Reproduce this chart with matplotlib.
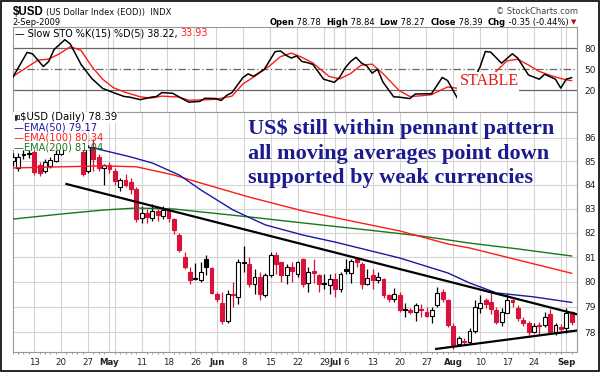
import matplotlib
matplotlib.use("Agg")
import matplotlib.pyplot as plt
import numpy as np
import pandas as pd
from matplotlib.patches import Rectangle

# ---------------- data ----------------
holidays = ["2009-04-10", "2009-05-25", "2009-07-03"]
days = [d.strftime("%m-%d") for d in pd.bdate_range("2009-04-06", "2009-09-02")
        if d.strftime("%Y-%m-%d") not in holidays]

opens = [85.0, 84.7, 85.25, 85.35, 85.4, 84.85, 84.6, 84.8, 85.0, 85.3,
         85.9, 86.1, 86.2, 85.4, 84.6, 85.6, 85.2, 84.7, 84.85, 84.6,
         83.9, 84.2, 84.1, 83.8, 82.6, 82.8, 82.6, 82.9, 82.7, 82.95,
         82.55, 81.9, 81.0, 80.4, 80.1, 80.07, 80.9, 80.55, 79.5, 79.15,
         78.45, 79.5, 79.4, 80.75, 80.7, 79.9, 80.2, 79.45, 80.25, 81.1,
         80.8, 80.25, 80.6, 80.3, 80.9, 79.95, 80.45, 80.25, 79.9, 79.85,
         80.1, 79.7, 80.5, 80.35, 80.9, 80.7, 79.9, 80.25, 80.05, 80.1,
         79.45, 79.3, 79.45, 78.9, 78.88, 78.8, 78.9, 78.8, 78.65, 79.05,
         79.6, 79.25, 78.25, 77.55, 77.65, 77.6, 78.05, 78.95, 79.25, 79.2,
         78.85, 78.4, 78.75, 79.25, 78.95, 78.48, 78.35, 78.0, 78.28, 78.28,
         78.7, 78.0, 78.18, 78.15, 78.78]
highs = [85.35, 85.35, 85.5, 85.5, 85.5, 84.95, 85.1, 85.2, 85.5, 86.0,
         86.4, 86.6, 86.5, 85.5, 85.7, 85.95, 85.3, 84.9, 84.95, 84.7,
         84.3, 84.45, 84.3, 83.9, 83.1, 83.0, 83.2, 83.0, 83.1, 83.05,
         82.6, 82.0, 81.2, 80.6, 80.75, 80.8, 81.1, 80.6, 79.6, 79.6,
         79.65, 80.0, 80.9, 81.45, 81.0, 80.5, 80.4, 80.35, 81.2, 81.2,
         80.8, 80.7, 80.8, 80.85, 80.95, 80.6, 80.9, 80.3, 80.3, 80.3,
         80.35, 80.4, 80.9, 80.9, 81.0, 80.8, 80.5, 80.5, 80.4, 80.15,
         79.5, 79.75, 79.6, 79.15, 78.95, 79.15, 79.1, 79.0, 79.0, 79.8,
         79.7, 79.3, 78.35, 77.85, 77.75, 78.15, 79.25, 79.45, 79.35, 79.55,
         79.0, 78.95, 79.5, 79.3, 79.05, 78.6, 78.45, 78.35, 78.4, 78.8,
         78.9, 78.35, 78.3, 78.95, 78.84]
lows = [84.8, 84.6, 85.1, 85.15, 84.4, 84.35, 84.5, 84.7, 84.95, 85.25,
        85.7, 85.9, 85.5, 84.35, 84.5, 84.6, 84.6, 84.0, 84.5, 84.0,
        83.75, 83.9, 83.6, 82.45, 82.4, 82.4, 82.5, 82.5, 82.55, 82.45,
        81.95, 81.2, 80.5, 79.9, 80.05, 80.0, 80.25, 79.5, 79.2, 78.3,
        78.35, 79.0, 79.1, 80.4, 79.8, 79.5, 79.25, 79.4, 80.2, 80.3,
        80.0, 79.9, 80.0, 80.2, 79.8, 79.6, 79.95, 79.6, 79.7, 79.5,
        79.4, 79.6, 80.3, 79.95, 80.6, 79.7, 79.85, 79.7, 79.95, 79.35,
        79.2, 79.2, 78.8, 78.6, 78.7, 78.45, 78.6, 78.6, 78.35, 79.0,
        79.2, 78.2, 77.35, 77.5, 77.5, 77.55, 77.95, 78.75, 78.95, 78.7,
        78.3, 78.25, 78.75, 79.0, 78.45, 78.25, 77.9, 77.95, 77.9, 78.2,
        77.95, 77.9, 78.0, 77.95, 78.27]
closes = [85.2, 85.2, 85.3, 85.32, 84.55, 84.5, 84.95, 85.05, 85.3, 85.9,
          86.15, 86.2, 85.6, 84.45, 85.6, 85.1, 84.7, 84.85, 84.65, 84.15,
          84.2, 84.0, 83.8, 82.55, 82.8, 82.65, 82.9, 82.75, 82.95, 82.6,
          82.1, 81.3, 80.6, 80.05, 80.15, 80.4, 80.6, 79.55, 79.3, 78.45,
          79.5, 79.45, 80.8, 80.8, 79.9, 80.2, 79.5, 80.25, 81.1, 80.7,
          80.25, 80.6, 80.45, 80.8, 79.9, 80.4, 80.35, 79.9, 79.95, 80.1,
          79.7, 80.3, 80.45, 80.85, 80.78, 79.9, 80.15, 80.05, 80.2, 79.45,
          79.3, 79.5, 78.85, 78.88, 78.8, 79.05, 78.85, 78.65, 78.85, 79.55,
          79.3, 78.28, 77.5, 77.75, 77.6, 78.05, 79.0, 79.15, 79.1, 78.9,
          78.4, 78.8, 79.25, 79.18, 78.55, 78.35, 78.0, 78.25, 78.22, 78.6,
          78.0, 78.28, 78.1, 78.75, 78.39]

ema50_days = ["04-06", "04-20", "04-28", "05-07", "05-13", "05-20", "05-27", "06-04",
              "06-12", "06-23", "07-01", "07-20", "07-31", "08-06", "08-13", "08-24", "09-02"]
ema50_vals = [85.7, 85.65, 85.57, 85.18, 84.92, 84.41, 83.78, 82.94,
              82.32, 81.90, 81.61, 80.96, 80.35, 79.95, 79.55, 79.39, 79.17]
ema100_days = ["04-06", "04-20", "04-30", "05-08", "05-19", "05-27", "06-09", "06-23",
               "07-07", "07-20", "07-31", "08-06", "08-19", "09-02"]
ema100_vals = [84.71, 84.76, 84.80, 84.76, 84.41, 84.07, 83.48, 82.90,
               82.48, 82.07, 81.53, 81.37, 80.88, 80.34]
ema200_days = ["04-06", "04-20", "04-30", "05-08", "05-19", "05-27", "06-09", "06-23",
               "07-10", "07-24", "08-06", "08-19", "09-02"]
ema200_vals = [82.56, 82.77, 82.94, 83.02, 82.98, 82.86, 82.65, 82.40,
               82.11, 81.86, 81.57, 81.33, 81.04]

k_days = ["04-06", "04-09", "04-13", "04-15", "04-16", "04-17", "04-21", "04-22", "04-24",
          "04-28", "04-30", "05-04", "05-06", "05-07", "05-11", "05-13", "05-14", "05-15",
          "05-19", "05-21", "05-22", "05-27", "05-28", "06-01", "06-02", "06-03", "06-04",
          "06-08", "06-09", "06-10", "06-12", "06-16", "06-17", "06-18", "06-19", "06-22",
          "06-23", "06-24", "06-25", "06-29", "07-01", "07-02", "07-06", "07-07", "07-08",
          "07-09", "07-10", "07-13", "07-14", "07-15", "07-17", "07-20", "07-22", "07-23",
          "07-27", "07-28", "07-30", "07-31", "08-04", "08-05", "08-07", "08-10", "08-11",
          "08-12", "08-14", "08-18", "08-19", "08-21", "08-25", "08-26", "08-28", "08-31",
          "09-01", "09-02"]
k_vals = [34, 74, 72, 54, 61, 78, 92, 86, 57,
          37, 23, 17, 11.5, 10.6, 7, 10.5, 11.5, 17,
          16, 7.5, 3.5, 4.5, 9, 8.5, 5.8, 13, 17,
          38, 43.6, 40, 50, 75, 76, 70, 66, 69,
          61, 59.5, 57, 36, 31.5, 39, 52, 61, 67,
          59, 55, 44.6, 50, 32, 11, 10.6, 8.5, 15,
          15.3, 15.3, 38.5, 34, 6.5, 8, 37, 53, 75.3,
          74.3, 58.7, 72, 66, 42, 36, 43, 36, 23.3,
          36, 38.22]
d_days = ["04-06", "04-08", "04-14", "04-16", "04-20", "04-22", "04-24", "04-28", "04-30",
          "05-04", "05-06", "05-11", "05-13", "05-15", "05-20", "05-22", "05-28", "06-01",
          "06-04", "06-08", "06-10", "06-15", "06-17", "06-19", "06-23", "06-25", "06-30",
          "07-02", "07-07", "07-09", "07-13", "07-15", "07-20", "07-22", "07-24", "07-28",
          "07-30", "07-31", "08-04", "08-05", "08-12", "08-13", "08-17", "08-19", "08-21",
          "08-25", "08-27", "08-31", "09-01", "09-02"]
d_vals = [38, 48, 63, 64.5, 72, 82, 77, 54, 36,
          24, 18, 11, 9.2, 12, 10.8, 6.2, 6.8, 7.5,
          12, 29, 39, 55, 68, 73, 67, 59, 40,
          36.5, 44, 56, 57.3, 44, 20, 11.5, 12.4, 14,
          21.5, 25, 23, 22, 40, 47, 62, 64.4, 56,
          47, 41.5, 37, 35.1, 33.93]

upper_trend = (["04-21", "09-02"], [84.03, 78.70])
lower_trend = (["07-29", "09-02"], [77.34, 78.06])

tick_days = ["04-13", "04-20", "04-27", "05-01", "05-11", "05-18", "05-26", "06-01", "06-08",
             "06-15", "06-22", "06-29", "07-01", "07-06", "07-13", "07-20", "07-27", "08-03",
             "08-10", "08-17", "08-24", "09-01"]
tick_labels = ["13", "20", "27", "May", "11", "18", "26", "Jun", "8", "15", "22", "29", "Jul",
               "6", "13", "20", "27", "Aug", "10", "17", "24", "Sep"]
grid_days = ["04-13", "04-20", "04-27", "05-01", "05-04", "05-11", "05-18", "05-26", "06-01",
             "06-08", "06-15", "06-22", "06-29", "07-01", "07-06", "07-13", "07-20", "07-27",
             "08-03", "08-10", "08-17", "08-24", "08-31", "09-01"]
price_ticks = [78, 79, 80, 81, 82, 83, 84, 85, 86]

# ---------------- drawing ----------------
pos = {d: i for i, d in enumerate(days)}
RED = "#d8123a"
GRID = "#d4d4d4"
EMA50_C, EMA100_C, EMA200_C = "#1a1aa0", "#ff1a1a", "#1a781a"

W, H = 600, 373
fig = plt.figure(figsize=(6.0, 3.73), dpi=100)
plt.rcParams['font.family'] = ['DejaVu Sans']

def fx(px):
    return px / W

def fy(py):
    return 1 - py / H

L, R = 12.7, 577.0
ax_s = fig.add_axes([fx(L), fy(112), fx(R - L), (112 - 27) / H])
ax_p = fig.add_axes([fx(L), fy(352), fx(R - L), (352 - 112) / H])

xlim = (0.33, 105.0)

# ---- price panel ----
ax_p.set_yscale("log")
ax_p.set_xlim(*xlim)
ax_p.set_ylim(77.22, 87.13)
for d in grid_days:
    ax_p.axvline(pos[d], color=GRID, lw=0.8, zorder=0)
    ax_s.axvline(pos[d], color=GRID, lw=0.8, zorder=0)
for p in price_ticks:
    ax_p.axhline(p, color=GRID, lw=0.8, zorder=0)

n = len(closes)
w = 0.72
for i in range(n):
    o, h, l, c = opens[i], highs[i], lows[i], closes[i]
    prev = closes[i - 1] if i > 0 else c
    col = RED if c < prev else "black"
    ax_p.vlines(i, l, h, color=col, lw=0.9, zorder=3)
    lo, hi = min(o, c), max(o, c)
    face = "white" if c >= o else col
    ax_p.add_patch(Rectangle((i - w / 2, lo), w, max(hi - lo, 0.015), facecolor=face,
                             edgecolor=col, lw=0.8, zorder=4))

ax_p.plot([pos[d] for d in ema200_days], ema200_vals, color=EMA200_C, lw=1.0, zorder=5)
ax_p.plot([pos[d] for d in ema100_days], ema100_vals, color=EMA100_C, lw=1.0, zorder=5)
ax_p.plot([pos[d] for d in ema50_days], ema50_vals, color=EMA50_C, lw=1.0, zorder=5)

ax_p.plot([pos[upper_trend[0][0]], 105.0], upper_trend[1], color="black", lw=1.6, zorder=6)
ax_p.plot([pos[lower_trend[0][0]] - 0.2, 105.0], lower_trend[1], color="black", lw=1.6, zorder=6)

ax_p.yaxis.tick_right()
ax_p.set_yticks(price_ticks)
ax_p.set_yticklabels([str(p) for p in price_ticks])
ax_p.yaxis.set_minor_locator(matplotlib.ticker.NullLocator())
ax_p.tick_params(axis="y", which="both", length=0, pad=5, labelsize=6.5, labelcolor="#222222")
ax_p.set_xticks([pos[d] for d in tick_days])
ax_p.set_xticklabels(tick_labels)
for lab, txt in zip(ax_p.get_xticklabels(), tick_labels):
    if not txt.isdigit():
        lab.set_fontweight("bold")
ax_p.set_xticks(range(n), minor=True)
ax_p.tick_params(axis="x", which="major", length=0, pad=4, labelsize=6.2, labelcolor="#222222")
ax_p.tick_params(axis="x", which="minor", length=1.5, width=0.6, color="#888888")
for sp in ax_p.spines.values():
    sp.set_color("#999999")
    sp.set_linewidth(0.8)

# legend box of price panel
ax_p.add_patch(Rectangle((0.0, 0.84), 0.133, 0.16, transform=ax_p.transAxes,
                         facecolor="white", edgecolor="none", zorder=7))
ax_p.add_patch(Rectangle((0.0, 0.955), 0.185, 0.045, transform=ax_p.transAxes,
                         facecolor="white", edgecolor="none", zorder=7))
ax_p.text((20.5 - L) / (R - L), (352 - 117.5) / 240, "$USD (Daily) 78.39", fontsize=7.3,
          color="black", va="center", ha="left", transform=ax_p.transAxes, zorder=8)
ax_p.add_patch(Rectangle(((14.5 - L) / (R - L), (352 - 120) / 240), 1.6 / (R - L), 5 / 240,
                         transform=ax_p.transAxes, facecolor="black", edgecolor="black",
                         lw=0.5, zorder=8))
ax_p.add_patch(Rectangle(((17.2 - L) / (R - L), (352 - 119) / 240), 1.6 / (R - L), 4 / 240,
                         transform=ax_p.transAxes, facecolor="white", edgecolor="black",
                         lw=0.5, zorder=8))
for lbl, col, py in [("\u2014EMA(50) 79.17", EMA50_C, 127.5),
                     ("\u2014EMA(100) 80.34", EMA100_C, 137.5),
                     ("\u2014EMA(200) 81.04", EMA200_C, 147.3)]:
    ax_p.text((14.5 - L) / (R - L), (352 - py) / 240, lbl, fontsize=7.1, color=col,
              va="center", ha="left", transform=ax_p.transAxes, zorder=8)

# annotation
ann = ["US$ still within pennant pattern", "all moving averages point down",
       "supported by weak currencies"]
for txt, base in zip(ann, [134.0, 158.5, 183.0]):
    ax_p.text((248 - L) / (R - L), (352 - base) / 240, txt, fontsize=16, fontweight="bold",
              family="Liberation Serif", color="#1b1b8f", ha="left", va="baseline",
              transform=ax_p.transAxes, zorder=9)

# ---- stochastic panel ----
ax_s.set_xlim(*xlim)
ax_s.set_ylim(-10.5, 110)
ax_s.axhline(80, color="#666666", lw=0.9, zorder=1)
ax_s.axhline(20, color="#666666", lw=0.9, zorder=1)
ax_s.axhline(50, color="#666666", lw=0.9, ls=(0, (6, 2, 1, 2)), zorder=1)
ax_s.plot([pos[d] for d in d_days], d_vals, color="#ff1a1a", lw=1.0, zorder=3)
ax_s.plot([pos[d] for d in k_days], k_vals, color="black", lw=1.1, zorder=4)
# white box behind "STABLE"
ax_s.add_patch(Rectangle((pos["08-04"] - 0.3, -10.5), 11.6, 57, facecolor="white",
                         edgecolor="none", zorder=6))
ax_s.text(pos["08-12"] - 0.2, 33, "STABLE", fontsize=11.5, family="Liberation Serif",
          color="#e01818", ha="center", va="center", zorder=7)
ax_s.yaxis.tick_right()
ax_s.set_yticks([20, 50, 80])
ax_s.set_yticklabels(["20", "50", "80"])
ax_s.tick_params(axis="y", length=0, pad=5, labelsize=6.5, labelcolor="#222222")
ax_s.set_xticks([])
for sp in ax_s.spines.values():
    sp.set_color("#999999")
    sp.set_linewidth(0.8)
ax_s.text((15 - L) / (R - L), (112 - 33.5) / 85, "\u2014 Slow STO %K(15) %D(5) 38.22,",
          fontsize=6.9, color="black", va="center", ha="left", transform=ax_s.transAxes,
          zorder=8)

fig.canvas.draw()
renderer = fig.canvas.get_renderer()
t0 = ax_s.texts[-1]
bb = t0.get_window_extent(renderer)
fig.text(bb.x1 / W + 0.004, fy(33.5), "33.93", fontsize=6.9, color="#ff1a1a", va="center",
         ha="left")

# ---- header ----
t_usd = fig.text(fx(12.5), fy(12), "$USD", fontsize=8.3, fontweight="bold",
                 family="Liberation Sans", va="center", ha="left")
usd_bb = t_usd.get_window_extent(renderer)
fig.text(usd_bb.x1 / W + 3.0 / W, fy(12), "(US Dollar Index (EOD))  INDX", fontsize=6.0,
         va="center", ha="left", color="#111111")
fig.text(fx(12), fy(22.5), "2-Sep-2009", fontsize=6.0, va="center", ha="left")
fig.text(fx(578), fy(11.5), "\u00a9 StockCharts.com", fontsize=6.0, va="center", ha="right",
         color="#444444")

pieces = [("Open", True), (" 78.78  ", False), ("High", True), (" 78.84  ", False),
          ("Low", True), (" 78.27  ", False), ("Close", True), (" 78.39  ", False),
          ("Chg", True), (" -0.35 (-0.44%) ", False)]
xr = 571.0
fig.text(fx(576), fy(22.5), "\u25bc", fontsize=5, color="#b01010", va="center", ha="right")
for txt, bold in reversed(pieces):
    t = fig.text(fx(xr), fy(22.5), txt, fontsize=6.0, va="center", ha="right",
                 fontweight="bold" if bold else "normal")
    xr -= t.get_window_extent(renderer).width

# outer border
fig.add_artist(Rectangle((0.0015, fy(370.5)), 0.996, fy(0.5) - fy(370.5),
                         transform=fig.transFigure, facecolor="none", edgecolor="black",
                         lw=1.2))

fig.savefig("out.png", dpi=100)
